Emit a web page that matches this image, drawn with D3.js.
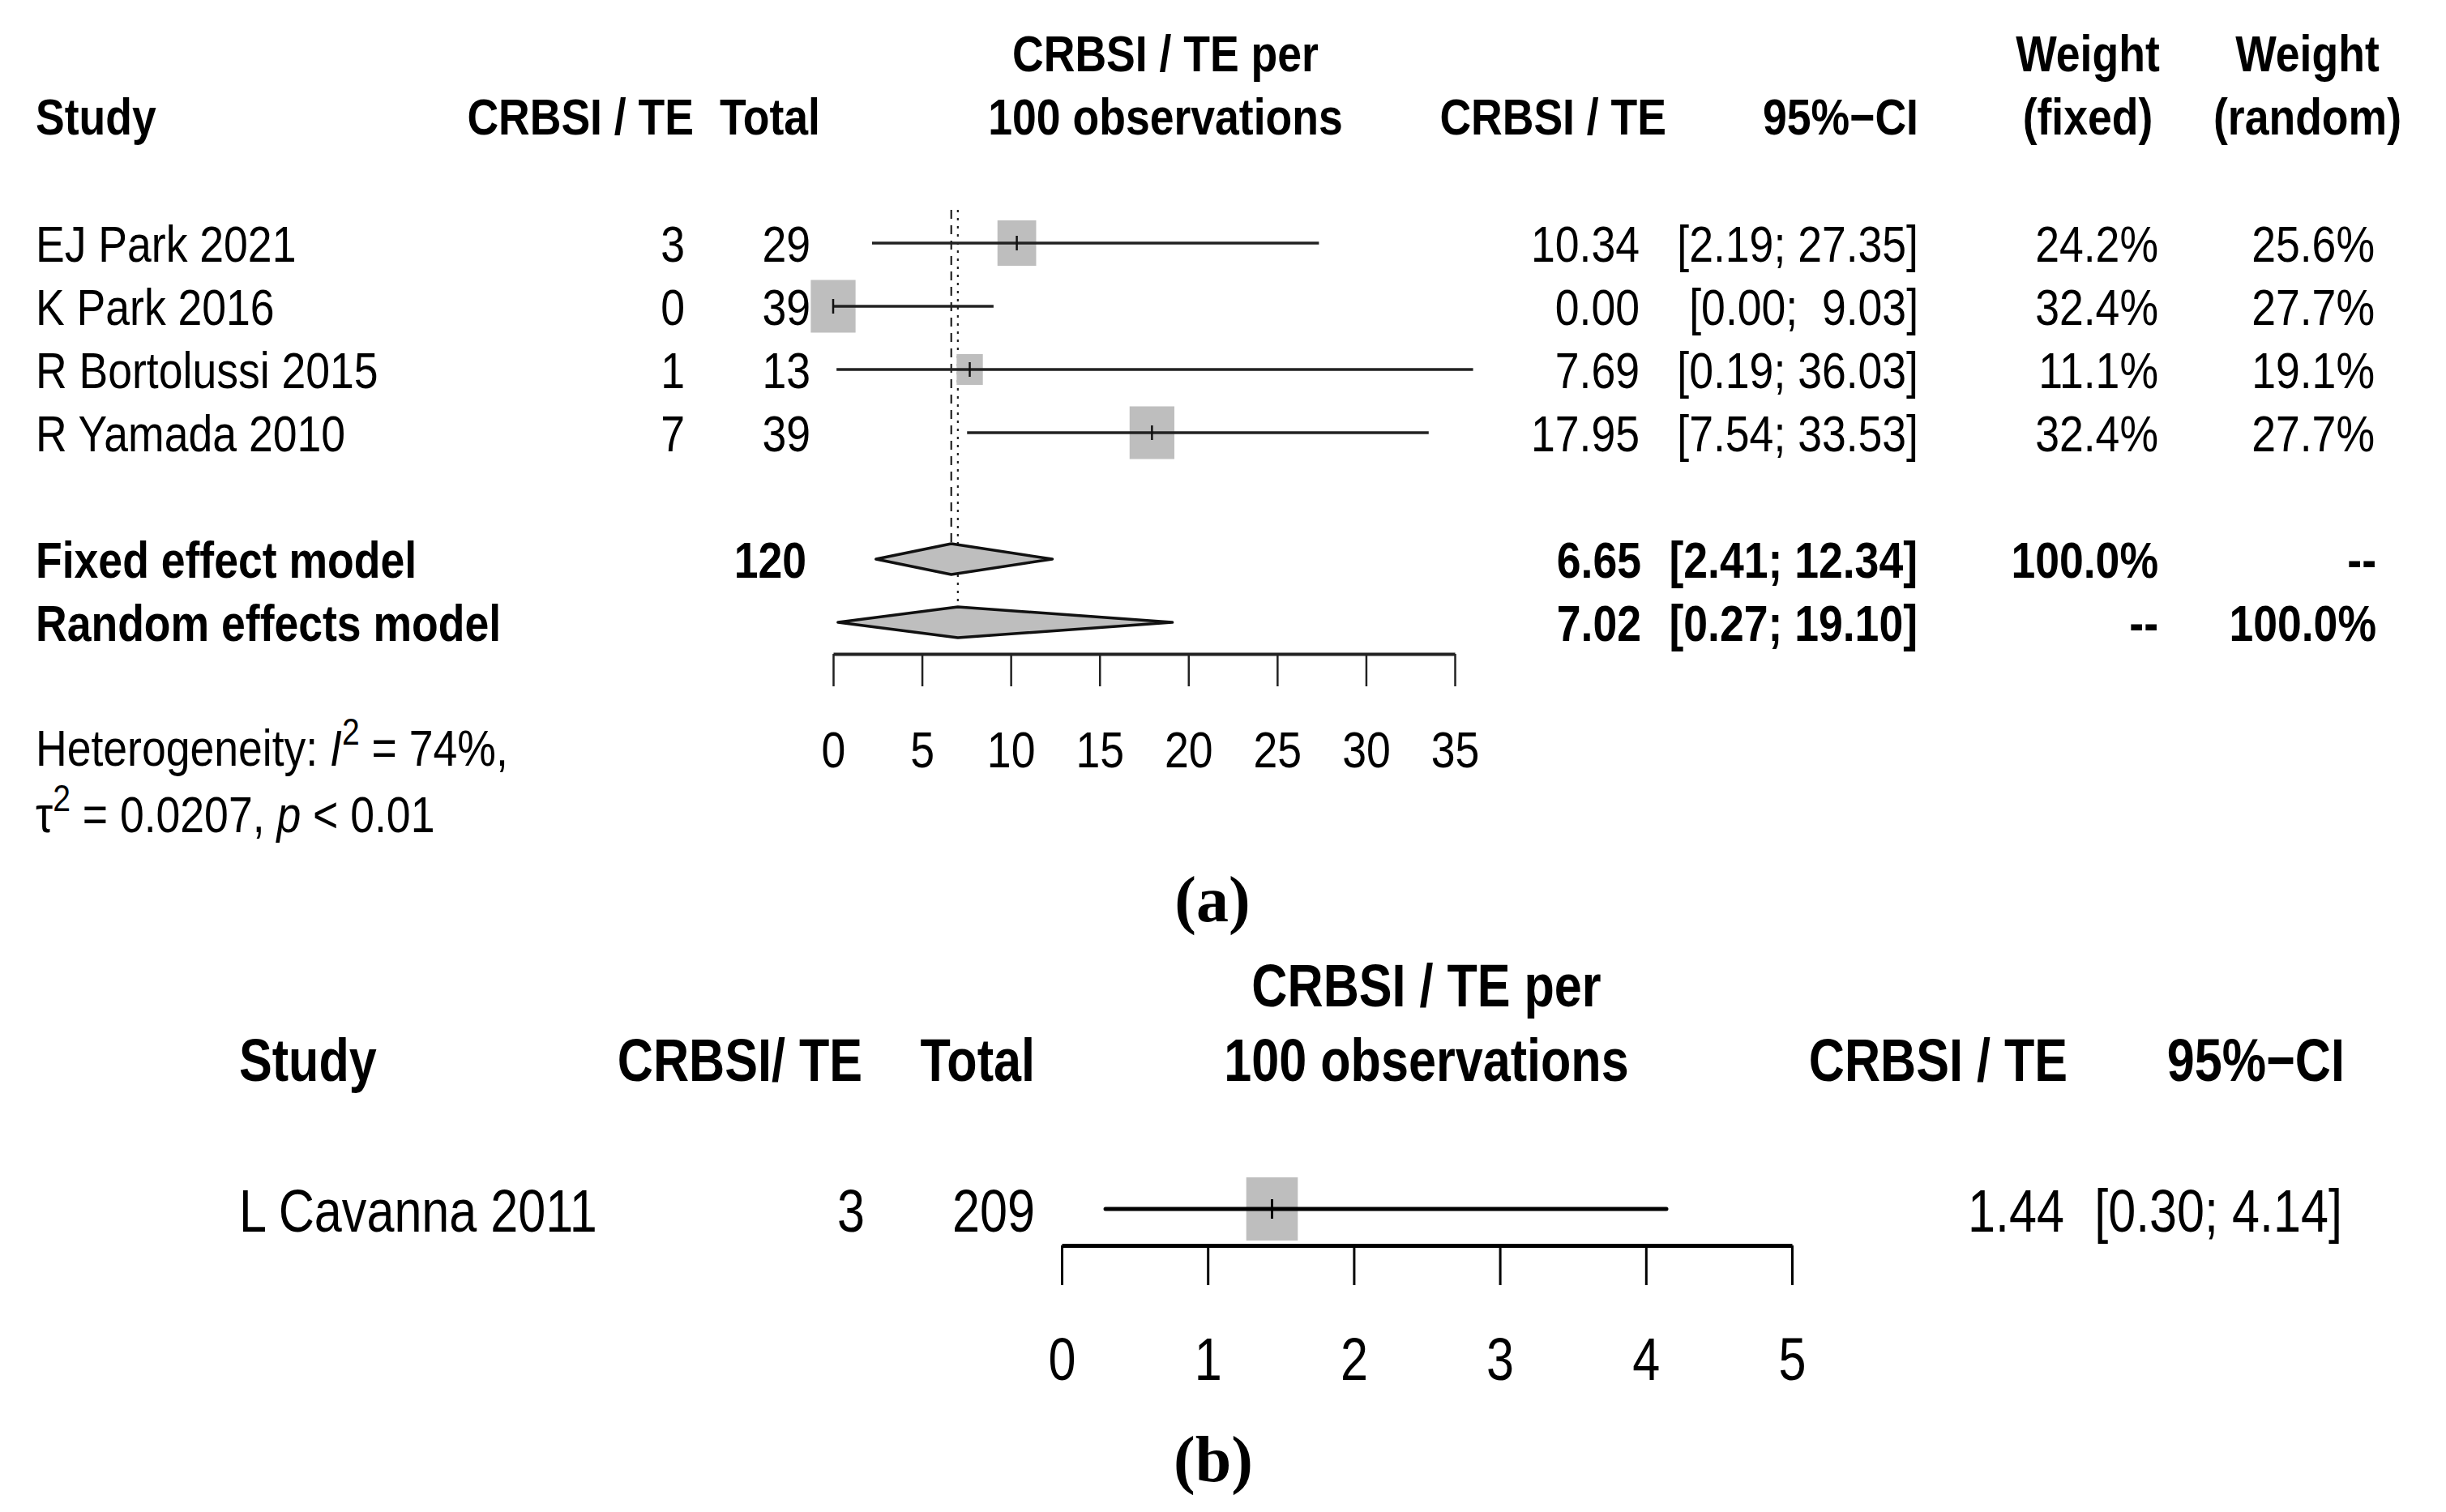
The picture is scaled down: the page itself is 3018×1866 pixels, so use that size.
<!DOCTYPE html>
<html>
<head>
<meta charset="utf-8">
<script src="https://cdn.jsdelivr.net/npm/d3@7"></script>
<style>
  body { margin: 0; background: #fff; }
  text { font-family: "Liberation Sans", Arial, Helvetica, sans-serif; white-space: pre; }
</style>
</head>
<body>
<div id="chart"></div>
<script>
// Panel (a) data
const studiesA = ["EJ Park 2021", "K Park 2016", "R Bortolussi 2015", "R Yamada 2010"];
const eventsA = [3, 0, 1, 7];
const totalsA = [29, 39, 13, 39];
const estA = [10.34, 0.0, 7.69, 17.95];
const lowerA = [2.19, 0.0, 0.19, 7.54];
const upperA = [27.35, 9.03, 36.03, 33.53];
const weightFixedA = [24.2, 32.4, 11.1, 32.4];
const weightRandomA = [25.6, 27.7, 19.1, 27.7];
const ciTextA = ["[2.19; 27.35]", "[0.00;  9.03]", "[0.19; 36.03]", "[7.54; 33.53]"];

const summaryLabels = ["Fixed effect model", "Random effects model"];
const summaryTotal = [120, null];
const summaryEst = [6.65, 7.02];
const summaryLower = [2.41, 0.27];
const summaryUpper = [12.34, 19.10];
const summaryCiText = ["[2.41; 12.34]", "[0.27; 19.10]"];
const summaryWFixed = ["100.0%", "--"];
const summaryWRandom = ["--", "100.0%"];

const ticksA = [0, 5, 10, 15, 20, 25, 30, 35];

// Panel (b) data
const studiesB = ["L Cavanna 2011"];
const eventsB = [3];
const totalsB = [209];
const estB = [1.44];
const lowerB = [0.30];
const upperB = [4.14];
const weightB = [100];
const ciTextB = ["[0.30; 4.14]"];
const ticksB = [0, 1, 2, 3, 4, 5];

const width = 3018, height = 1866;
const svg = d3.select("#chart").append("svg")
  .attr("width", width).attr("height", height)
  .style("background", "#fff");

const gray = "#bebebe";

// text helper: the original image is horizontally squeezed, so text is scaled in x
function txt(g, x, y, s, o) {
  o = o || {};
  return g.append("text")
    .attr("transform", "translate(" + x + "," + y + ") scale(" + (o.sx || 1) + ",1)")
    .attr("text-anchor", o.anchor || "start")
    .style("font-size", (o.size || 63) + "px")
    .style("font-weight", o.bold ? "bold" : "normal")
    .style("fill", "#000")
    .text(s);
}

// ---------- Panel (a) ----------
const A = { sx: 0.85, size: 63 };
const gA = svg.append("g");
const xA = d3.scaleLinear().domain([0, 35]).range([1028, 1795]);
const rowA = d3.scaleLinear().domain([0, 1]).range([300, 378]);
const yRows = studiesA.map((d, i) => rowA(i));
const ySum = [rowA(5), rowA(6)];
const base = 22.5;

// headers
const hA = { sx: A.sx, size: A.size, bold: true };
txt(gA, 44, 166, "Study", hA);
txt(gA, 856, 166, "CRBSI / TE", Object.assign({ anchor: "end" }, hA));
txt(gA, 1012, 166, "Total", Object.assign({ anchor: "end" }, hA));
txt(gA, 1438, 88, "CRBSI / TE per", Object.assign({ anchor: "middle" }, hA));
txt(gA, 1438, 166, "100 observations", Object.assign({ anchor: "middle" }, hA));
txt(gA, 2056, 166, "CRBSI / TE", Object.assign({ anchor: "end" }, hA));
txt(gA, 2367, 166, "95%\u2212CI", Object.assign({ anchor: "end" }, hA));
txt(gA, 2576, 88, "Weight", Object.assign({ anchor: "middle" }, hA));
txt(gA, 2576, 166, "(fixed)", Object.assign({ anchor: "middle" }, hA));
txt(gA, 2847, 88, "Weight", Object.assign({ anchor: "middle" }, hA));
txt(gA, 2847, 166, "(random)", Object.assign({ anchor: "middle" }, hA));

// reference lines (fixed dashed, random dotted)
gA.append("line")
  .attr("x1", xA(summaryEst[0])).attr("x2", xA(summaryEst[0]))
  .attr("y1", 259).attr("y2", ySum[0] - 19)
  .attr("stroke", "#222").attr("stroke-width", 2.2).attr("stroke-dasharray", "11,8");
gA.append("line")
  .attr("x1", xA(summaryEst[1])).attr("x2", xA(summaryEst[1]))
  .attr("y1", 259).attr("y2", ySum[1] - 19)
  .attr("stroke", "#222").attr("stroke-width", 2.2).attr("stroke-dasharray", "3,7");

// study rows
const kA = 11.42;
studiesA.forEach((s, i) => {
  const y = yRows[i];
  const side = kA * Math.sqrt(weightFixedA[i]);
  gA.append("rect")
    .attr("x", xA(estA[i]) - side * A.sx / 2).attr("y", y - side / 2)
    .attr("width", side * A.sx).attr("height", side)
    .attr("fill", gray);
  gA.append("line")
    .attr("x1", xA(lowerA[i])).attr("x2", xA(upperA[i]))
    .attr("y1", y).attr("y2", y)
    .attr("stroke", "#222").attr("stroke-width", 3.5);
  gA.append("line")
    .attr("x1", xA(estA[i])).attr("x2", xA(estA[i]))
    .attr("y1", y - 9).attr("y2", y + 9)
    .attr("stroke", "#111").attr("stroke-width", 2.5);

  txt(gA, 44, y + base, s, A);
  txt(gA, 845, y + base, String(eventsA[i]), Object.assign({ anchor: "end" }, A));
  txt(gA, 1000, y + base, String(totalsA[i]), Object.assign({ anchor: "end" }, A));
  txt(gA, 2023, y + base, estA[i].toFixed(2), Object.assign({ anchor: "end" }, A));
  txt(gA, 2367, y + base, ciTextA[i], Object.assign({ anchor: "end" }, A));
  txt(gA, 2663, y + base, weightFixedA[i].toFixed(1) + "%", Object.assign({ anchor: "end" }, A));
  txt(gA, 2930, y + base, weightRandomA[i].toFixed(1) + "%", Object.assign({ anchor: "end" }, A));
});

// summary rows
summaryLabels.forEach((s, i) => {
  const y = ySum[i];
  const h = 19;
  const pts = [[xA(summaryLower[i]), y], [xA(summaryEst[i]), y - h],
               [xA(summaryUpper[i]), y], [xA(summaryEst[i]), y + h]];
  gA.append("path")
    .attr("d", d3.line()(pts) + "Z")
    .attr("fill", gray).attr("stroke", "#111").attr("stroke-width", 3.5)
    .attr("stroke-linejoin", "round");
  const b = Object.assign({}, A, { bold: true });
  txt(gA, 44, y + base, s, b);
  if (summaryTotal[i] != null) txt(gA, 995, y + base, String(summaryTotal[i]), Object.assign({ anchor: "end" }, b));
  txt(gA, 2025, y + base, summaryEst[i].toFixed(2), Object.assign({ anchor: "end" }, b));
  txt(gA, 2366, y + base, summaryCiText[i], Object.assign({ anchor: "end" }, b));
  txt(gA, 2663, y + base, summaryWFixed[i], Object.assign({ anchor: "end" }, b));
  txt(gA, 2932, y + base, summaryWRandom[i], Object.assign({ anchor: "end" }, b));
});

// axis (a)
const axA = gA.append("g").attr("transform", "translate(0,807)")
  .call(d3.axisBottom(xA).tickValues(ticksA).tickSize(40).tickSizeOuter(0).tickFormat(d3.format("d")));
axA.select(".domain").attr("stroke", "#222").attr("stroke-width", 4);
axA.selectAll(".tick line").attr("stroke", "#222").attr("stroke-width", 2.5);
axA.selectAll(".tick text")
  .attr("y", 0).attr("dy", null)
  .attr("transform", "translate(0,140) scale(" + A.sx + ",1)")
  .style("font-size", A.size + "px").style("fill", "#000")
  .style("font-family", "'Liberation Sans', Arial, sans-serif");

// heterogeneity
const het1 = txt(gA, 44, 945, "Heterogeneity: ", A);
het1.append("tspan").style("font-style", "italic").text("I");
het1.append("tspan").attr("dy", -26).style("font-size", "46px").text("2");
het1.append("tspan").attr("dy", 26).text(" = 74%,");
const het2 = txt(gA, 44, 1027, "\u03c4", A);
het2.append("tspan").attr("dy", -26).style("font-size", "46px").text("2");
het2.append("tspan").attr("dy", 26).text(" = 0.0207, ");
het2.append("tspan").style("font-style", "italic").text("p");
het2.append("tspan").text(" < 0.01");

// caption (a)
svg.append("text").attr("x", 1496).attr("y", 1137).attr("text-anchor", "middle")
  .style("font-family", "'Liberation Serif', 'Times New Roman', serif")
  .style("font-size", "80px").style("font-weight", "bold").text("(a)");

// ---------- Panel (b) ----------
const B = { sx: 0.815, size: 75 };
const gB = svg.append("g");
const xB = d3.scaleLinear().domain([0, 5]).range([1310, 2211]);
const yB = [1492];
const hB = { sx: B.sx, size: B.size, bold: true };
const baseB = 28;

txt(gB, 295, 1334, "Study", hB);
txt(gB, 1064, 1334, "CRBSI/ TE", Object.assign({ anchor: "end" }, hB));
txt(gB, 1277, 1334, "Total", Object.assign({ anchor: "end" }, hB));
txt(gB, 1760, 1242, "CRBSI / TE per", Object.assign({ anchor: "middle" }, hB));
txt(gB, 1760, 1334, "100 observations", Object.assign({ anchor: "middle" }, hB));
txt(gB, 2551, 1334, "CRBSI / TE", Object.assign({ anchor: "end" }, hB));
txt(gB, 2893, 1334, "95%\u2212CI", Object.assign({ anchor: "end" }, hB));

const kB = 7.8;
studiesB.forEach((s, i) => {
  const y = yB[i];
  const side = kB * Math.sqrt(weightB[i]);
  gB.append("rect")
    .attr("x", xB(estB[i]) - side * B.sx / 2).attr("y", y - side / 2)
    .attr("width", side * B.sx).attr("height", side)
    .attr("fill", gray);
  gB.append("line")
    .attr("x1", xB(lowerB[i])).attr("x2", xB(upperB[i]))
    .attr("y1", y).attr("y2", y)
    .attr("stroke", "#000").attr("stroke-width", 5).attr("stroke-linecap", "round");
  gB.append("line")
    .attr("x1", xB(estB[i])).attr("x2", xB(estB[i]))
    .attr("y1", y - 12).attr("y2", y + 12)
    .attr("stroke", "#000").attr("stroke-width", 3);

  txt(gB, 295, y + baseB, s, B);
  txt(gB, 1067, y + baseB, String(eventsB[i]), Object.assign({ anchor: "end" }, B));
  txt(gB, 1277, y + baseB, String(totalsB[i]), Object.assign({ anchor: "end" }, B));
  txt(gB, 2547, y + baseB, estB[i].toFixed(2), Object.assign({ anchor: "end" }, B));
  txt(gB, 2890, y + baseB, ciTextB[i], Object.assign({ anchor: "end" }, B));
});

const axB = gB.append("g").attr("transform", "translate(0,1537)")
  .call(d3.axisBottom(xB).tickValues(ticksB).tickSize(49).tickSizeOuter(0).tickFormat(d3.format("d")));
axB.select(".domain").attr("stroke", "#000").attr("stroke-width", 5);
axB.selectAll(".tick line").attr("stroke", "#000").attr("stroke-width", 3);
axB.selectAll(".tick text")
  .attr("y", 0).attr("dy", null)
  .attr("transform", "translate(0,166) scale(" + B.sx + ",1)")
  .style("font-size", B.size + "px").style("fill", "#000")
  .style("font-family", "'Liberation Sans', Arial, sans-serif");

svg.append("text").attr("x", 1497).attr("y", 1828).attr("text-anchor", "middle")
  .style("font-family", "'Liberation Serif', 'Times New Roman', serif")
  .style("font-size", "80px").style("font-weight", "bold").text("(b)");
</script>
</body>
</html>
